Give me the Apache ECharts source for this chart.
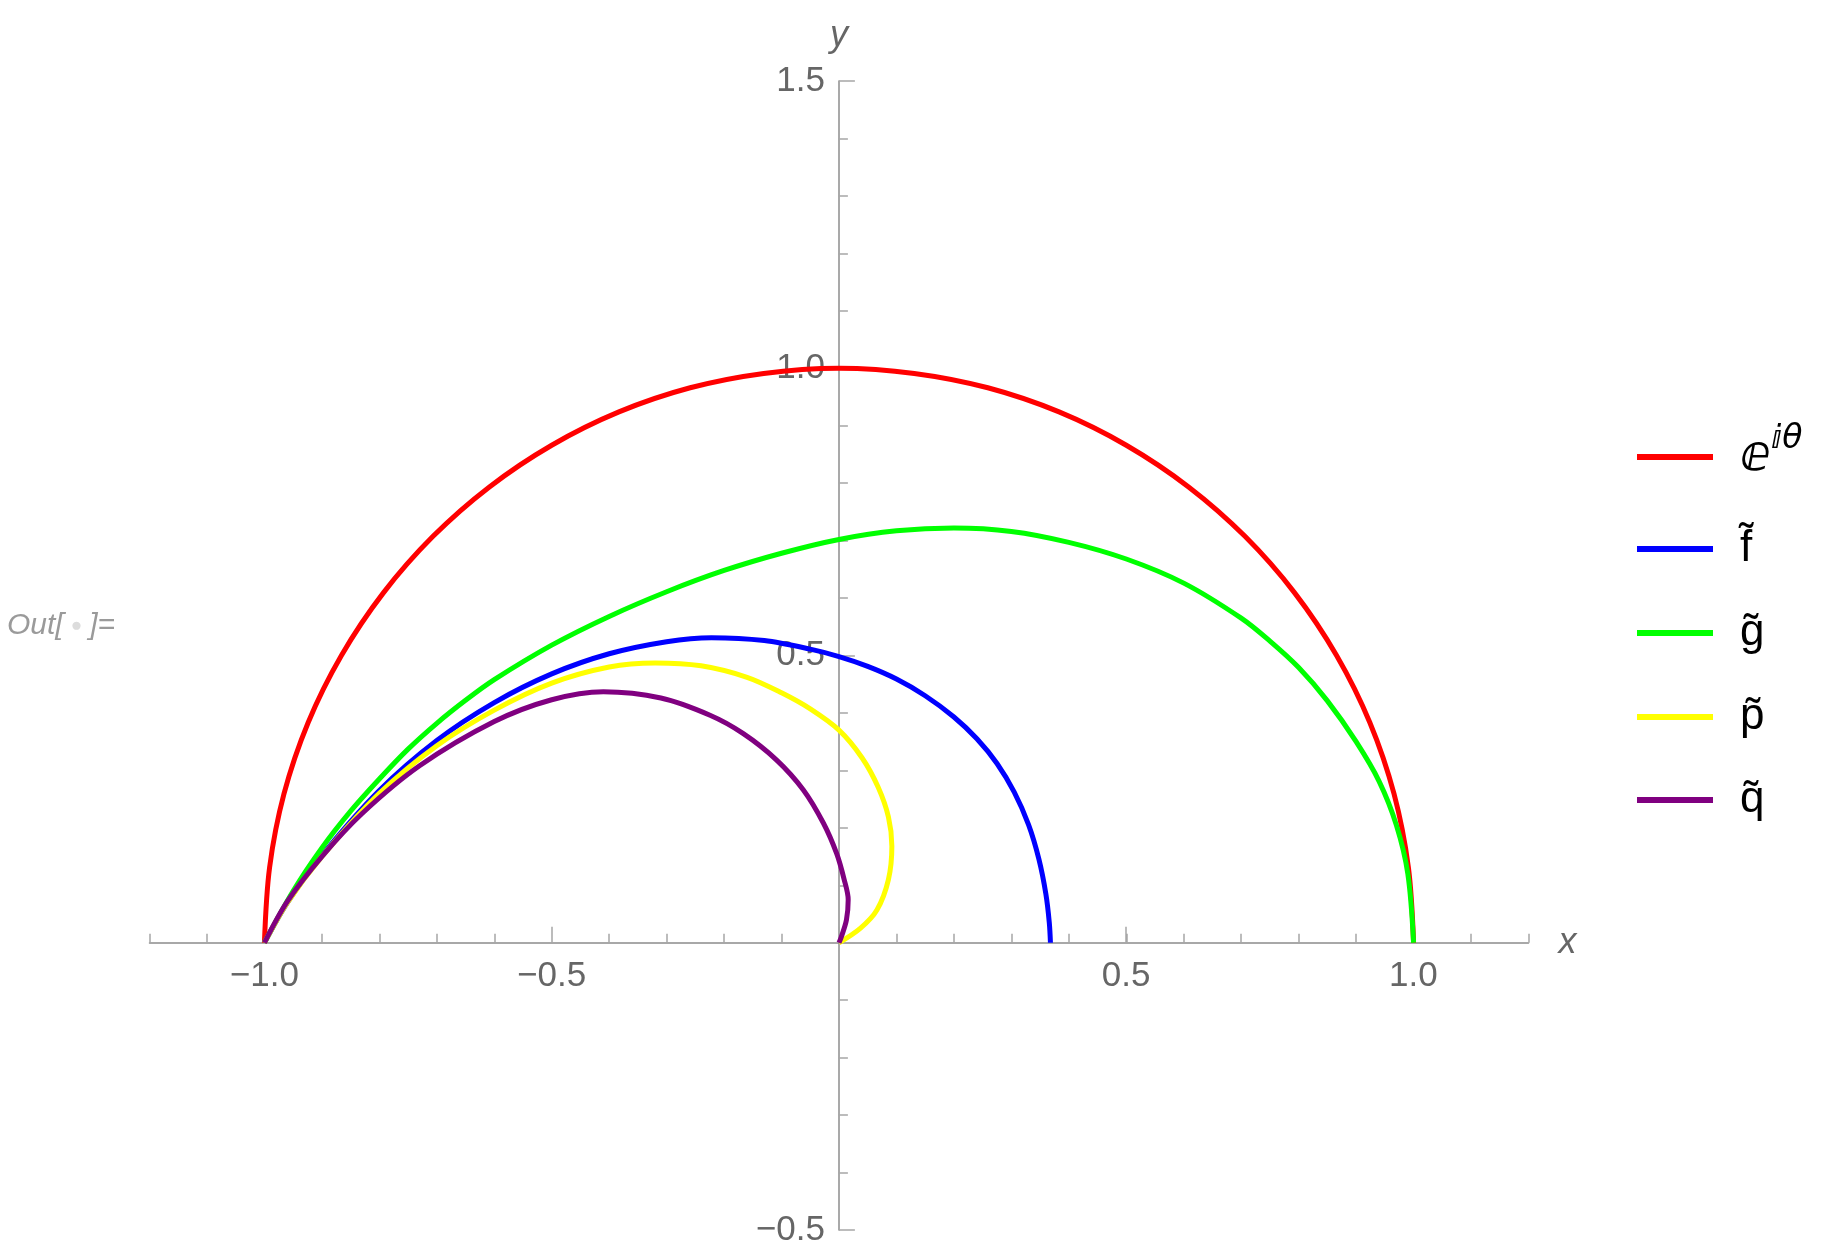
<!DOCTYPE html>
<html>
<head>
<meta charset="utf-8">
<title>curves</title>
<script src="https://cdn.jsdelivr.net/npm/echarts@6/dist/echarts.min.js"></script>
<style>
  html, body { margin: 0; padding: 0; background: #fff; }
  #chart { width: 1827px; height: 1259px; }
</style>
</head>
<body>
<div id="chart"></div>
<script>
// legend names and colours, same order as the curves are drawn
const names = ['eitheta', 'f\u0303', 'g\u0303', 'p\u0303', 'q\u0303'];
const colors = ['#ff0000', '#0000ff', '#00ff00', '#ffff00', '#800080'];

// points, [x, y]
const circle = [[1.000,0.000],[0.991,0.131],[0.966,0.259],[0.924,0.383],[0.866,0.500],[0.793,0.609],
  [0.707,0.707],[0.609,0.793],[0.500,0.866],[0.383,0.924],[0.259,0.966],[0.131,0.991],[0.000,1.000],
  [-0.131,0.991],[-0.259,0.966],[-0.383,0.924],[-0.500,0.866],[-0.609,0.793],[-0.707,0.707],
  [-0.793,0.609],[-0.866,0.500],[-0.924,0.383],[-0.966,0.259],[-0.991,0.131],[-1.000,0.000]];
const fTilde = [[-1.000,0.000],[-0.960,0.070],[-0.900,0.152],[-0.800,0.265],[-0.700,0.352],[-0.600,0.418],
  [-0.500,0.468],[-0.400,0.503],[-0.300,0.524],[-0.222,0.531],[-0.130,0.526],[-0.050,0.511],[0.000,0.498],
  [0.050,0.481],[0.100,0.459],[0.150,0.430],[0.200,0.393],[0.240,0.355],[0.275,0.312],[0.305,0.262],
  [0.330,0.205],[0.348,0.145],[0.360,0.085],[0.366,0.035],[0.368,0.000]];
const gTilde = [[-1.000,0.000],[-0.950,0.090],[-0.900,0.165],[-0.850,0.229],[-0.800,0.285],[-0.750,0.337],
  [-0.700,0.382],[-0.650,0.422],[-0.600,0.458],[-0.500,0.518],[-0.400,0.568],[-0.300,0.611],[-0.200,0.648],
  [-0.100,0.678],[0.000,0.702],[0.100,0.717],[0.200,0.722],[0.300,0.716],[0.400,0.697],[0.500,0.668],
  [0.600,0.626],[0.700,0.565],[0.750,0.525],[0.800,0.479],[0.850,0.421],[0.900,0.350],[0.940,0.281],
  [0.970,0.205],[0.990,0.120],[1.000,0.000]];
const pTilde = [[-1.000,0.000],[-0.960,0.070],[-0.900,0.150],[-0.800,0.260],[-0.700,0.343],[-0.600,0.405],
  [-0.500,0.452],[-0.400,0.480],[-0.320,0.487],[-0.240,0.482],[-0.160,0.462],[-0.100,0.435],[-0.050,0.407],
  [0.000,0.370],[0.040,0.322],[0.068,0.271],[0.086,0.219],[0.092,0.168],[0.086,0.110],[0.066,0.057],
  [0.037,0.025],[0.000,0.000]];
const qTilde = [[-1.000,0.000],[-0.960,0.072],[-0.900,0.150],[-0.830,0.225],[-0.730,0.308],[-0.600,0.385],
  [-0.500,0.423],[-0.410,0.437],[-0.310,0.426],[-0.2245,0.396],[-0.1665,0.364],[-0.1085,0.318],
  [-0.062,0.266],[-0.027,0.208],[-0.004,0.155],[0.009,0.110],[0.016,0.075],[0.013,0.040],[0.004,0.010],
  [0.000,0.000]];
const curves = [circle, fTilde, gTilde, pTilde, qTilde];

// labelled ticks
const xLabels = [-1.0, -0.5, 0.5, 1.0];
const yLabels = [-0.5, 0.5, 1.0, 1.5];

// legend line centres (px)
const legendY = [457, 552, 636, 720, 803];

const font = "'Liberation Sans', 'DejaVu Sans', Arial, sans-serif";
const tickColor = '#a6a6a6';
const lineColor = '#8c8c8c';

// plot box: x -1.2..1.2, y -0.5..1.5, 574.5 px per unit
const L = 149.5, T = 81, W = 1379, H = 1149;
const zeroY = T + 1.5 * 574.5;   // pixel row of y = 0
const zeroX = L + 1.2 * 574.5;   // pixel column of x = 0

function fmt(v) {
  const r = Math.round(v * 10) / 10;
  return (r < 0 ? '\u2212' : '') + Math.abs(r).toFixed(1);
}
function pick(list) {
  return function (v) {
    return list.some(t => Math.abs(t - v) < 1e-6) ? fmt(v) : '';
  };
}

const chart = echarts.init(document.getElementById('chart'));

const labelStyle = { color: '#666', fontSize: 35, fontFamily: font };
const nameStyle = { fontSize: 36, fontStyle: 'italic', color: '#666', fontFamily: font };
const hidden = (k, lo, hi) => ({ type: 'value', gridIndex: k, show: false, min: lo, max: hi });

const option = {
  animation: false,
  backgroundColor: '#fff',
  title: {
    text: '{a|Out[}{b|\u25CF}{a|]=}',
    left: 2,
    top: 606,
    textStyle: {
      rich: {
        a: { fontSize: 30, fontStyle: 'italic', fontWeight: 'normal', color: '#9a9a9a', fontFamily: font },
        b: { fontSize: 19, fontWeight: 'normal', color: '#dcdcdc', padding: [0, 7, 0, 7] }
      }
    }
  },
  grid: [
    { left: L, top: T, width: W, height: H },                       // data
    { left: L, top: T, width: W, height: zeroY - T },               // x line + minor ticks
    { left: L + 0.2 * 574.5, top: T, width: 2 * 574.5, height: zeroY - T }, // x major ticks + labels
    { left: zeroX, top: T, width: L + W - zeroX, height: H }        // y axis
  ],
  xAxis: [
    hidden(0, -1.2, 1.2),
    {
      type: 'value', gridIndex: 1, min: -1.2, max: 1.2, interval: 0.1,
      name: 'x', nameLocation: 'end', nameGap: 30, nameTextStyle: nameStyle,
      axisLine: { show: true, onZero: false, lineStyle: { color: lineColor, width: 1.5 } },
      axisTick: { show: true, inside: true, length: 9, lineStyle: { color: tickColor, width: 1.5 } },
      axisLabel: { show: false },
      splitLine: { show: false }
    },
    {
      type: 'value', gridIndex: 2, min: -1, max: 1, interval: 0.5,
      axisLine: { show: false, onZero: false },
      axisTick: { show: true, inside: true, length: 16, lineStyle: { color: tickColor, width: 1.5 } },
      axisLabel: Object.assign({ margin: 16, formatter: pick(xLabels), showMinLabel: true, showMaxLabel: true }, labelStyle),
      splitLine: { show: false }
    },
    hidden(3, 0, 1)
  ],
  yAxis: [
    hidden(0, -0.5, 1.5),
    hidden(1, 0, 1),
    hidden(2, 0, 1),
    {
      type: 'value', gridIndex: 3, position: 'left', min: -0.5, max: 1.5, interval: 0.5,
      name: 'y', nameLocation: 'end', nameGap: 27, nameTextStyle: nameStyle,
      axisLine: { show: true, onZero: false, lineStyle: { color: lineColor, width: 1.5 } },
      axisTick: { show: true, inside: true, length: 16, lineStyle: { color: tickColor, width: 1.5 } },
      minorTick: { show: true, splitNumber: 5, length: 9, lineStyle: { color: tickColor, width: 1.5 } },
      axisLabel: Object.assign({ margin: 14, formatter: pick(yLabels), showMinLabel: true, showMaxLabel: true }, labelStyle),
      splitLine: { show: false }
    }
  ],
  legend: names.map((n, i) => ({
    data: [n],
    orient: 'vertical',
    left: 1637,
    top: legendY[i] - (i === 0 ? 34 : 25),
    padding: 0,
    icon: 'rect',
    itemWidth: 76,
    itemHeight: 6,
    selectedMode: false,
    formatter: i === 0 ? '{e|\u2147}{s|\u2148\u03B8}' : '{t|{name}}',
    textStyle: {
      padding: [0, 0, 0, 22],
      rich: {
        e: { fontSize: 50, fontStyle: 'italic', color: '#000', lineHeight: 68, fontFamily: "'DejaVu Sans', sans-serif" },
        s: { fontSize: 33, fontStyle: 'italic', color: '#000', lineHeight: 30, verticalAlign: 'top', fontFamily: "'DejaVu Sans', sans-serif" },
        t: { fontSize: 44, color: '#000', lineHeight: 50, fontFamily: font }
      }
    }
  })),
  series: curves.map((d, i) => ({
    name: names[i],
    type: 'line',
    xAxisIndex: 0,
    yAxisIndex: 0,
    data: d,
    smooth: 0.33,
    showSymbol: false,
    clip: false,
    color: colors[i],
    itemStyle: { color: colors[i] },
    lineStyle: { color: colors[i], width: 5 },
    z: 3 + i
  }))
};

chart.setOption(option);
</script>
</body>
</html>
